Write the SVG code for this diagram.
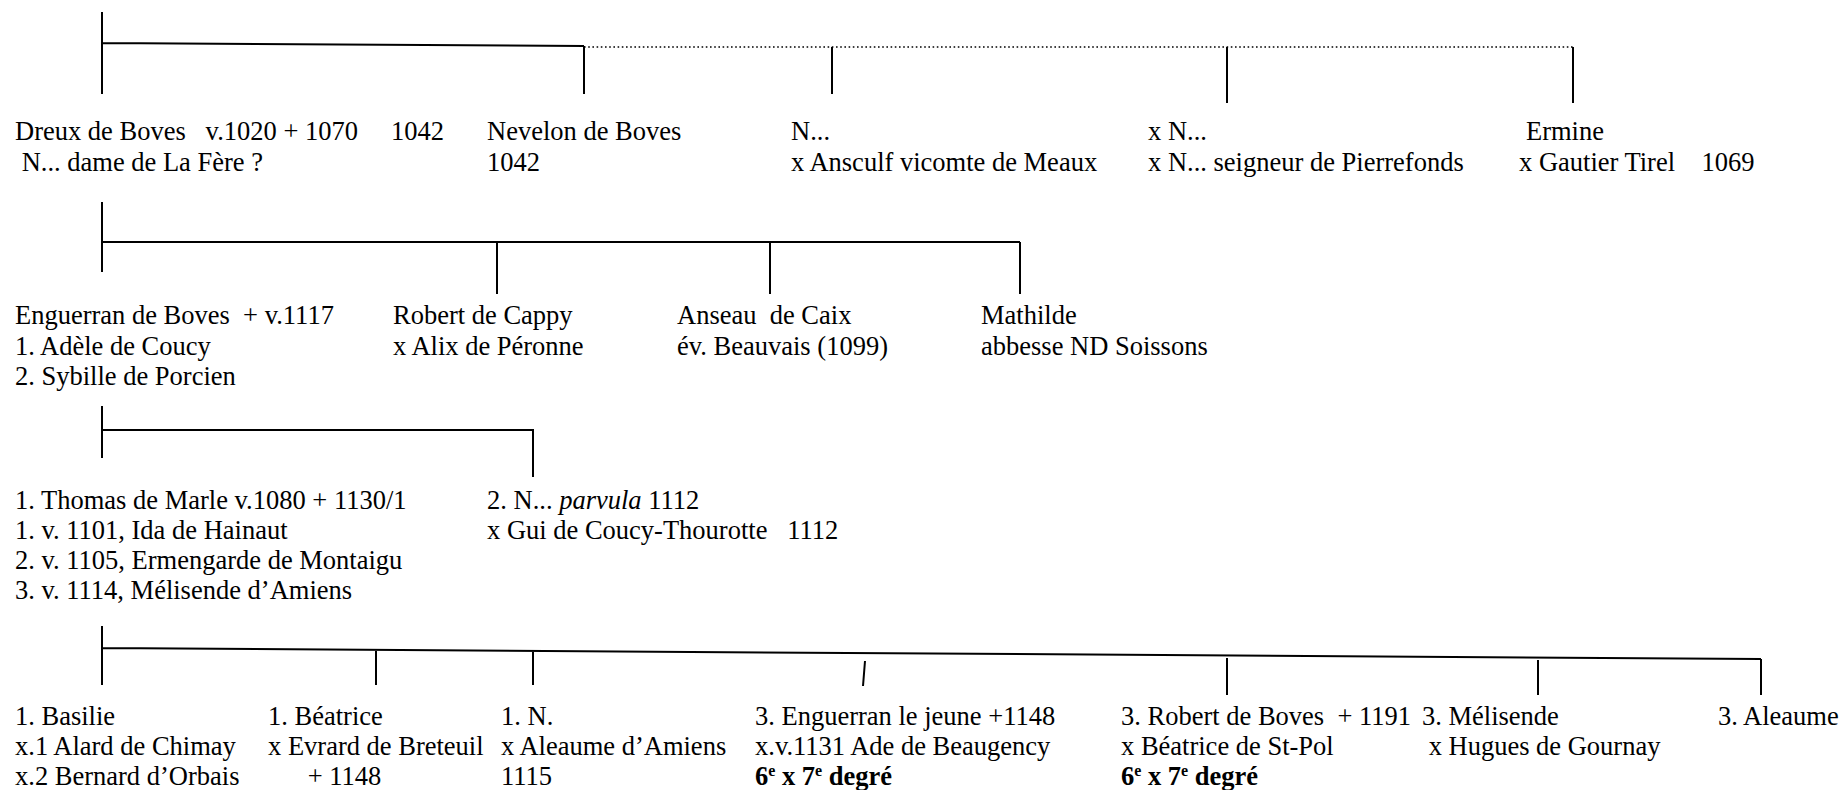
<svg xmlns="http://www.w3.org/2000/svg" width="1841" height="790" viewBox="0 0 1841 790" xml:space="preserve">
<style>
text{font-family:"Liberation Serif","Times New Roman",serif;font-size:26.5px;fill:#000;white-space:pre}
.l{stroke:#000;stroke-width:2;fill:none}
.d{stroke:#000;stroke-width:1.6;fill:none;stroke-dasharray:1.6 2.6}
.b{font-weight:bold}
.sup{font-size:16px}
</style>
<rect width="1841" height="790" fill="#fff"/>
<g id="connectors">
<path class="l" d="M102 12V94M102 43L584 46M584 46V94"/>
<path class="d" d="M584 47H1573"/>
<path class="l" d="M832 47V94M1227 47V103M1573 47V103"/>
<path class="l" d="M102 202V272M102 242H1020M497 242V294M770 242V294M1020 242V294"/>
<path class="l" d="M102 406V458M102 430H533V477"/>
<path class="l" d="M102 626V685M102 648L1761 659M376 649V685M533 650V685M865 661L863 686M1227 658V695M1538 660V695M1761 659V695"/>
</g>
<g id="n-dreux"><text x="15" y="140">Dreux de Boves   v.1020 + 1070     1042</text><text x="15" y="170.5"> N... dame de La Fère ?</text></g>
<g id="n-nevelon"><text x="487" y="140">Nevelon de Boves</text><text x="487" y="170.5">1042</text></g>
<g id="n-n1"><text x="791" y="140">N...</text><text x="791" y="170.5">x Ansculf vicomte de Meaux</text></g>
<g id="n-n2"><text x="1148" y="140">x N...</text><text x="1148" y="170.5">x N... seigneur de Pierrefonds</text></g>
<g id="n-ermine"><text x="1526" y="140">Ermine</text><text x="1519" y="170.5">x Gautier Tirel    1069</text></g>
<g id="n-enguerran"><text x="15" y="324">Enguerran de Boves  + v.1117</text><text x="15" y="354.5">1. Adèle de Coucy</text><text x="15" y="385">2. Sybille de Porcien</text></g>
<g id="n-robert"><text x="393" y="324">Robert de Cappy</text><text x="393" y="354.5">x Alix de Péronne</text></g>
<g id="n-anseau"><text x="677" y="324">Anseau  de Caix</text><text x="677" y="354.5">év. Beauvais (1099)</text></g>
<g id="n-mathilde"><text x="981" y="324">Mathilde</text><text x="981" y="354.5">abbesse ND Soissons</text></g>
<g id="n-thomas"><text x="15" y="509">1. Thomas de Marle v.1080 + 1130/1</text><text x="15" y="539">1. v. 1101, Ida de Hainaut</text><text x="15" y="569">2. v. 1105, Ermengarde de Montaigu</text><text x="15" y="599">3. v. 1114, Mélisende d’Amiens</text></g>
<g id="n-parvula"><text x="487" y="509">2. N... <tspan font-style="italic">parvula</tspan> 1112</text><text x="487" y="539">x Gui de Coucy-Thourotte   1112</text></g>
<g id="n-basilie"><text x="15" y="724.5">1. Basilie</text><text x="15" y="755">x.1 Alard de Chimay</text><text x="15" y="785">x.2 Bernard d’Orbais</text></g>
<g id="n-beatrice"><text x="268" y="724.5">1. Béatrice</text><text x="268" y="755">x Evrard de Breteuil</text><text x="268" y="785">      + 1148</text></g>
<g id="n-n3"><text x="501" y="724.5">1. N.</text><text x="501" y="755">x Aleaume d’Amiens</text><text x="501" y="785">1115</text></g>
<g id="n-enguerran2"><text x="755" y="724.5">3. Enguerran le jeune +1148</text><text x="755" y="755">x.v.1131 Ade de Beaugency</text><text x="755" y="785" class="b">6<tspan class="sup" dy="-9">e</tspan><tspan dy="9"> x 7</tspan><tspan class="sup" dy="-9">e</tspan><tspan dy="9"> degré</tspan></text></g>
<g id="n-robert2"><text x="1121" y="724.5">3. Robert de Boves  + 1191</text><text x="1121" y="755">x Béatrice de St-Pol</text><text x="1121" y="785" class="b">6<tspan class="sup" dy="-9">e</tspan><tspan dy="9"> x 7</tspan><tspan class="sup" dy="-9">e</tspan><tspan dy="9"> degré</tspan></text></g>
<g id="n-melisende"><text x="1422" y="724.5">3. Mélisende</text><text x="1422" y="755"> x Hugues de Gournay</text></g>
<g id="n-aleaume"><text x="1718" y="724.5">3. Aleaume</text></g>
</svg>
